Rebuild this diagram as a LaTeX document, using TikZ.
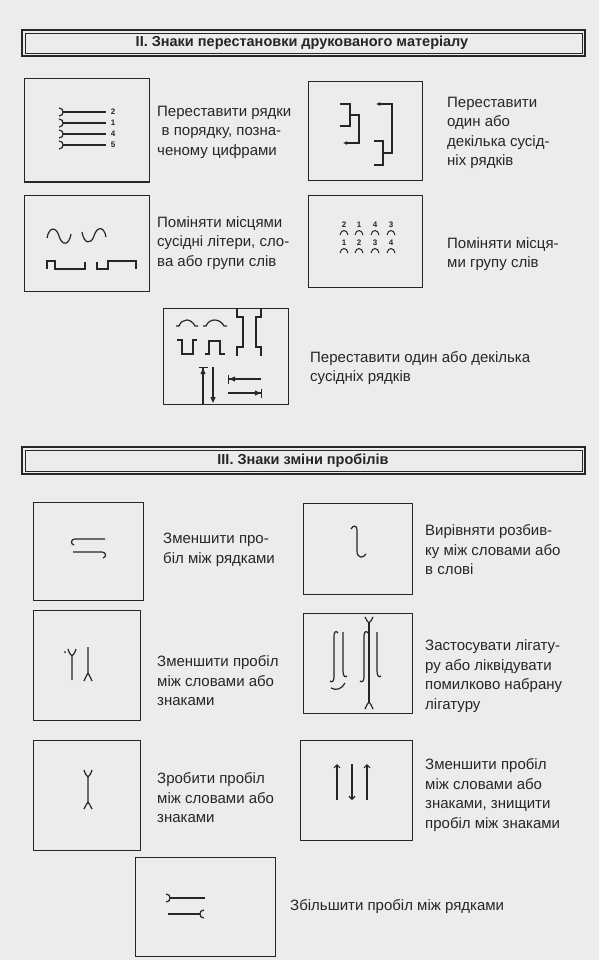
\documentclass[tikz,border=0pt]{standalone}
\usepackage{fontspec}
\setmainfont{Liberation Sans}
\usetikzlibrary{arrows.meta}
\definecolor{paper}{RGB}{236,236,236}
\definecolor{ink}{RGB}{38,38,38}

\begin{document}
\begin{tikzpicture}[x=1pt,y=-1pt,
    box/.style={draw=ink,line width=1pt},
    sym/.style={draw=ink,line width=1.2pt},
    txt/.style={anchor=west,align=left,inner sep=0pt,text=ink,font=\fontsize{15}{19.5}\selectfont},
    num/.style={inner sep=0pt,text=ink,font=\fontsize{8}{8}\selectfont\bfseries},
    head/.style={inner sep=0pt,text=ink,font=\fontsize{14.5}{16}\selectfont\bfseries}]
  \useasboundingbox (0,0) rectangle (599,960);
  \fill[paper] (0,0) rectangle (599,960);

  % II
  \draw[line width=1.6pt,draw=ink] (22,30) rectangle (585,56);
  \draw[line width=0.5pt,draw=ink] (25,33) rectangle (582,53);
  \node[head] (headII) at (302,43) {II. Знаки перестановки друкованого матеріалу};

  \draw[box] (24,79) rectangle (149,182);
  \foreach \y/\n in {112/2,123/1,134/4,145/5}{
    \draw[sym] (59,\y-4) .. controls (62,\y-4) and (63,\y-2) .. (63,\y)
      .. controls (63,\y+2) and (62,\y+4) .. (59,\y+4);
    \draw[sym] (63,\y) -- (106,\y);
    \node[num] at (113,\y) {\n};
  }
  \node[txt] (orderlines) at (157,132) {Переставити рядки\\\hspace*{0.3em}в порядку, позна-\\ченому цифрами};

  \draw[box] (308,82) rectangle (422,181);
  \draw[sym] (340,104) -- (350,104) -- (350,126) -- (340,126);
  \draw[sym,-{Latex[length=4pt,width=4pt]}] (350,115) -- (359,115) -- (359,143) -- (343,143);
  \draw[sym] (374,141) -- (383,141) -- (383,165) -- (374,165);
  \draw[sym,-{Latex[length=4pt,width=4pt]}] (383,153) -- (392,153) -- (392,104) -- (376,104);
  \node[txt] (movelines) at (447,133) {Переставити\\один або\\декілька сусід-\\ніх рядків};

  \draw[box] (24,195) rectangle (149,291);
  \draw[sym] (47,238) .. controls (49,227) and (56,226) .. (59,236)
    .. controls (62,246) and (69,246) .. (71,234);
  \draw[sym] (82,232) .. controls (84,244) and (91,245) .. (94,236)
    .. controls (97,226) and (104,226) .. (106,237);
  \draw[sym] (47,269) -- (47,261) -- (55,261) -- (55,269) -- (85,269) -- (85,262);
  \draw[sym] (97,262) -- (97,269) -- (108,269) -- (108,261) -- (136,261) -- (136,269);
  \node[txt] (swapletters) at (157,243) {Поміняти місцями\\сусідні літери, сло-\\ва або групи слів};

  \draw[box] (308,195) rectangle (422,287);
  \foreach \x/\a/\b in {344/2/1,359/1/2,375/4/3,391/3/4}{
    \node[num] at (\x,225) {\a};
    \draw[sym,line width=1pt] (\x-4,235) .. controls (\x-3,229) and (\x+3,229) .. (\x+4,235);
    \node[num] at (\x,243) {\b};
    \draw[sym,line width=1pt] (\x-4,253) .. controls (\x-3,247) and (\x+3,247) .. (\x+4,253);
  }
  \node[txt] (swapgroup) at (447,254) {Поміняти місця-\\ми групу слів};

  \draw[box] (163,308) rectangle (288,404);
  \draw[sym] (176,326) -- (179,326) .. controls (182,318) and (191,318) .. (195,326) -- (198,326);
  \draw[sym] (203,326) -- (206,326) .. controls (209,318) and (220,318) .. (224,326) -- (227,326);
  \draw[sym] (177,340) -- (182,340) -- (182,354) -- (193,354) -- (193,340) -- (197,340);
  \draw[sym] (205,354) -- (209,354) -- (209,341) -- (220,341) -- (220,354) -- (225,354);
  \draw[sym] (237,308) -- (237,317) -- (243,317) -- (243,347) -- (237,347) -- (237,356);
  \draw[sym] (261,308) -- (261,317) -- (256,317) -- (256,347) -- (261,347) -- (261,356);
  \draw[sym,-{Triangle[length=6pt,width=5pt]Bar[width=9pt]}] (203,404) -- (203,367);
  \draw[sym,-{Triangle[length=6pt,width=5pt]}] (213,367) -- (213,403);
  \draw[sym,-{Triangle[length=6pt,width=5pt]Bar[width=9pt]}] (261,379) -- (228,379);
  \draw[sym,-{Triangle[length=6pt,width=5pt]Bar[width=9pt]}] (228,393) -- (262,393);
  \node[txt] (movemany) at (310,368) {Переставити один або декілька\\сусідніх рядків};

  % III
  \draw[line width=1.6pt,draw=ink] (22,447) rectangle (585,474);
  \draw[line width=0.5pt,draw=ink] (25,450) rectangle (582,471);
  \node[head] (headIII) at (303,461) {III. Знаки зміни пробілів};

  \draw[box] (33,502) rectangle (143,600);
  \draw[sym] (105,539) -- (75,539) .. controls (71,539) and (70,544) .. (74,545);
  \draw[sym] (73,552) -- (102,552) .. controls (106,552) and (107,557) .. (103,558);
  \node[txt] (lessline) at (163,550) {Зменшити про-\\біл між рядками};

  \draw[box] (303,503) rectangle (412,594);
  \draw[sym] (351,529) .. controls (353,525) and (357,525) .. (357,530) -- (357,551)
    .. controls (357,558) and (363,559) .. (366,554);
  \node[txt] (evenout) at (425,550) {Вирівняти розбив-\\ку між словами або\\в слові};

  \draw[box] (33,610) rectangle (140,720);
  \fill[ink] (65,652) circle (1);
  \draw[sym] (68,649) .. controls (69,653) and (71,655) .. (72,656) -- (72,680);
  \draw[sym] (76,649) .. controls (75,653) and (73,655) .. (72,656);
  \draw[sym] (88,647) -- (88,673) .. controls (87,675) and (85,678) .. (84,681);
  \draw[sym] (88,673) .. controls (89,675) and (91,678) .. (92,681);
  \node[txt] (lessword) at (157,681) {Зменшити пробіл\\між словами або\\знаками};

  \draw[box] (303,613) rectangle (412,713);
  \draw[sym] (338,633) .. controls (336,630) and (334,632) .. (334,636) -- (334,677)
    .. controls (334,681) and (332,683) .. (330,681);
  \draw[sym] (343,632) -- (343,671) .. controls (343,676) and (345,678) .. (347,676);
  \draw[sym] (331,688) .. controls (336,691) and (342,689) .. (345,683);
  \draw[sym] (369,623) -- (369,702);
  \draw[sym] (365,617) .. controls (366,620) and (368,622) .. (369,623)
    .. controls (370,622) and (372,620) .. (373,617);
  \draw[sym] (365,709) .. controls (366,706) and (368,703) .. (369,702)
    .. controls (370,703) and (372,706) .. (373,709);
  \draw[sym] (368,633) .. controls (366,630) and (364,632) .. (364,636) -- (364,677)
    .. controls (364,681) and (362,683) .. (360,681);
  \draw[sym] (377,632) -- (377,671) .. controls (377,676) and (379,678) .. (381,676);
  \node[txt] (ligature) at (425,676) {Застосувати лігату-\\ру або ліквідувати\\помилково набрану\\лігатуру};

  \draw[box] (33,740) rectangle (140,850);
  \draw[sym] (84,770) .. controls (85,774) and (87,776) .. (88,777) -- (88,802)
    .. controls (87,804) and (85,806) .. (84,809);
  \draw[sym] (92,770) .. controls (91,774) and (89,776) .. (88,777);
  \draw[sym] (88,802) .. controls (89,804) and (91,806) .. (92,809);
  \node[txt] (addword) at (157,798) {Зробити пробіл\\між словами або\\знаками};

  \draw[box] (300,740) rectangle (412,840);
  \draw[sym,-{Straight Barb[length=3pt,width=6pt]}] (337,800) -- (337,764);
  \draw[sym,-{Straight Barb[length=3pt,width=6pt]}] (352,764) -- (352,800);
  \draw[sym,-{Straight Barb[length=3pt,width=6pt]}] (367,800) -- (367,764);
  \node[txt] (removespace) at (425,795) {Зменшити пробіл\\між словами або\\знаками, знищити\\пробіл між знаками};

  \draw[box] (135,857) rectangle (275,956);
  \draw[sym] (166,894) .. controls (169,894) and (170,896) .. (170,898)
    .. controls (170,900) and (169,902) .. (166,902);
  \draw[sym] (170,898) -- (205,898);
  \draw[sym] (168,914) -- (200,914);
  \draw[sym] (204,910) .. controls (201,910) and (200,912) .. (200,914)
    .. controls (200,916) and (201,918) .. (204,918);
  \node[txt] (moreline) at (290,907) {Збільшити пробіл між рядками};
\end{tikzpicture}
\end{document}
